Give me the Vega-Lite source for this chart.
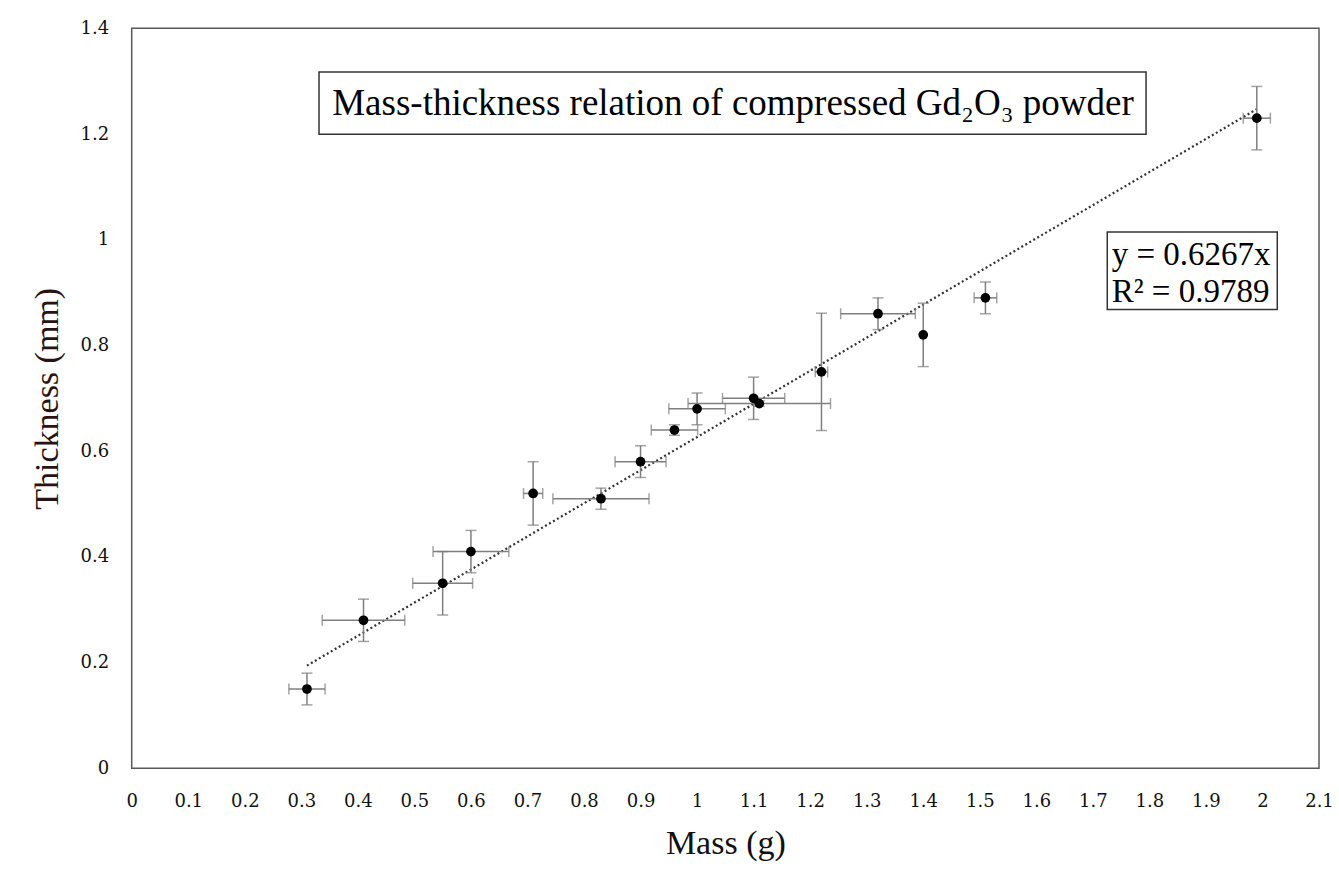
{
  "$schema": "https://vega.github.io/schema/vega-lite/v6.json",
  "width": 1187.3,
  "height": 740,
  "autosize": {"type": "none"},
  "padding": {"left": 131.7, "top": 28.3, "right": 20, "bottom": 108.7},
  "background": "white",
  "datasets": {
    "pts": [
      {"mass": 0.31, "thickness": 0.15, "xe": 0.032, "ye": 0.03},
      {"mass": 0.41, "thickness": 0.28, "xe": 0.073, "ye": 0.04},
      {"mass": 0.55, "thickness": 0.35, "xe": 0.053, "ye": 0.06},
      {"mass": 0.60, "thickness": 0.41, "xe": 0.067, "ye": 0.04},
      {"mass": 0.71, "thickness": 0.52, "xe": 0.017, "ye": 0.06},
      {"mass": 0.83, "thickness": 0.51, "xe": 0.085, "ye": 0.02},
      {"mass": 0.90, "thickness": 0.58, "xe": 0.045, "ye": 0.03},
      {"mass": 0.96, "thickness": 0.64, "xe": 0.041, "ye": 0.01},
      {"mass": 1.00, "thickness": 0.68, "xe": 0.05, "ye": 0.03},
      {"mass": 1.10, "thickness": 0.70, "xe": 0.055, "ye": 0.04},
      {"mass": 1.11, "thickness": 0.69, "xe": 0.126, "ye": 0.005},
      {"mass": 1.22, "thickness": 0.75, "xe": 0.011, "ye": 0.111},
      {"mass": 1.32, "thickness": 0.86, "xe": 0.066, "ye": 0.03},
      {"mass": 1.40, "thickness": 0.82, "xe": 0, "ye": 0.06},
      {"mass": 1.51, "thickness": 0.89, "xe": 0.02, "ye": 0.03},
      {"mass": 1.99, "thickness": 1.23, "xe": 0.024, "ye": 0.06}
    ],
    "trend": [
      {"mass": 0.31, "thickness": 0.1943},
      {"mass": 1.99, "thickness": 1.2471}
    ],
    "one": [{"id": 1}]
  },
  "config": {
    "view": {"stroke": "#595959", "strokeWidth": 1.5},
    "axis": {
      "domain": false,
      "ticks": false,
      "grid": false,
      "labelFont": "DejaVu Serif",
      "labelFontSize": 18,
      "labelColor": "#111111",
      "titleFont": "Liberation Serif",
      "titleFontSize": 34,
      "titleFontWeight": "normal",
      "titleColor": "#111111"
    }
  },
  "layer": [
    {
      "data": {"name": "one"},
      "mark": {"type": "rect", "fill": "white", "stroke": "#333333", "strokeWidth": 1.5},
      "encoding": {
        "x": {"datum": 0.3313},
        "x2": {"datum": 1.7941},
        "y": {"datum": 1.3172},
        "y2": {"datum": 1.1997}
      }
    },
    {
      "data": {"name": "one"},
      "mark": {"type": "text", "font": "Liberation Serif", "fontSize": 37, "align": "center", "baseline": "alphabetic", "color": "#000000"},
      "encoding": {
        "x": {"datum": 1.0635},
        "y": {"datum": 1.236},
        "text": {"value": "Mass-thickness relation of compressed Gd₂O₃ powder"}
      }
    },
    {
      "data": {"name": "one"},
      "mark": {"type": "rect", "fill": "white", "stroke": "#333333", "strokeWidth": 1.5},
      "encoding": {
        "x": {"datum": 1.7255},
        "x2": {"datum": 2.0262},
        "y": {"datum": 1.0146},
        "y2": {"datum": 0.868}
      }
    },
    {
      "data": {"name": "one"},
      "mark": {"type": "text", "font": "Liberation Serif", "fontSize": 33, "align": "left", "baseline": "alphabetic", "color": "#000000"},
      "encoding": {
        "x": {"datum": 1.7333},
        "y": {"datum": 0.9521},
        "text": {"value": "y = 0.6267x"}
      }
    },
    {
      "data": {"name": "one"},
      "mark": {"type": "text", "font": "Liberation Serif", "fontSize": 33, "align": "left", "baseline": "alphabetic", "color": "#000000"},
      "encoding": {
        "x": {"datum": 1.7333},
        "y": {"datum": 0.8821},
        "text": {"value": "R² = 0.9789"}
      }
    },
    {
      "data": {"name": "trend"},
      "mark": {"type": "line", "color": "#333333", "strokeWidth": 2.2, "strokeDash": [2, 2.6]},
      "encoding": {
        "x": {"field": "mass", "type": "quantitative", "title": "Mass (g)"},
        "y": {"field": "thickness", "type": "quantitative", "title": "Thickness (mm)"}
      }
    },
    {
      "data": {"name": "pts"},
      "transform": [{"filter": "datum.xe > 0"}],
      "mark": {"type": "errorbar", "color": "#7f7f7f", "thickness": 1.5, "size": 11, "ticks": true},
      "encoding": {
        "x": {"field": "mass", "type": "quantitative", "title": "Mass (g)"},
        "xError": {"field": "xe"},
        "y": {"field": "thickness", "type": "quantitative", "title": "Thickness (mm)"}
      }
    },
    {
      "data": {"name": "pts"},
      "mark": {"type": "errorbar", "color": "#7f7f7f", "thickness": 1.5, "size": 11, "ticks": true},
      "encoding": {
        "y": {"field": "thickness", "type": "quantitative", "title": "Thickness (mm)"},
        "yError": {"field": "ye"},
        "x": {"field": "mass", "type": "quantitative", "title": "Mass (g)"}
      }
    },
    {
      "data": {"name": "pts"},
      "mark": {"type": "circle", "color": "#000000", "opacity": 1, "size": 95},
      "encoding": {
        "x": {
          "field": "mass",
          "type": "quantitative",
          "title": "Mass (g)",
          "scale": {"domain": [0, 2.1], "nice": false, "zero": false},
          "axis": {
            "values": [0, 0.1, 0.2, 0.3, 0.4, 0.5, 0.6, 0.7, 0.8, 0.9, 1, 1.1, 1.2, 1.3, 1.4, 1.5, 1.6, 1.7, 1.8, 1.9, 2, 2.1],
            "format": "~g",
            "labelPadding": 24,
            "labelOverlap": false,
            "labelFlush": false,
            "titleY": 75,
            "titleBaseline": "middle"
          }
        },
        "y": {
          "field": "thickness",
          "type": "quantitative",
          "title": "Thickness (mm)",
          "scale": {"domain": [0, 1.4], "nice": false, "zero": false},
          "axis": {
            "values": [0, 0.2, 0.4, 0.6, 0.8, 1, 1.2, 1.4],
            "format": "~g",
            "labelPadding": 23,
            "labelOverlap": false,
            "labelFlush": false,
            "titleX": -84,
            "titleY": 370,
            "titleAngle": -90,
            "titleAlign": "center",
            "titleBaseline": "middle",
            "titleColor": "#2a1212"
          }
        }
      }
    }
  ]
}
